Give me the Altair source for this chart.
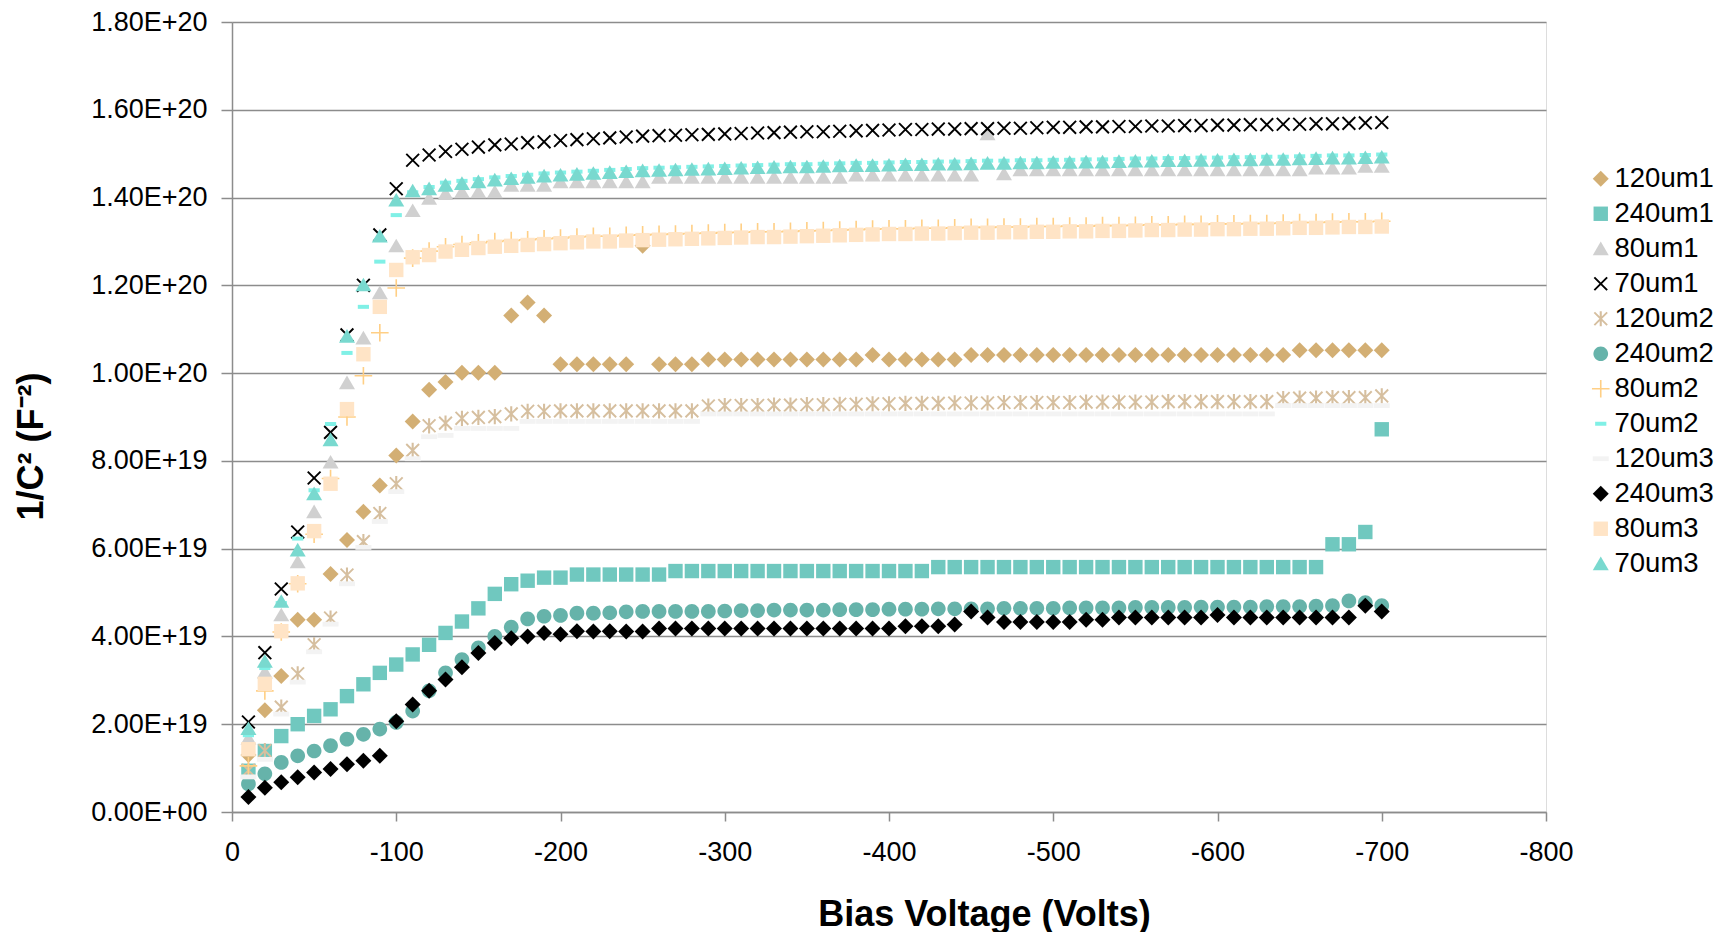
import altair as alt
import pandas as pd

volts = [-10, -20, -30, -40, -50, -60, -70, -80, -90, -100,
         -110, -120, -130, -140, -150, -160, -170, -180, -190, -200,
         -210, -220, -230, -240, -250, -260, -270, -280, -290, -300,
         -310, -320, -330, -340, -350, -360, -370, -380, -390, -400,
         -410, -420, -430, -440, -450, -460, -470, -480, -490, -500,
         -510, -520, -530, -540, -550, -560, -570, -580, -590, -600,
         -610, -620, -630, -640, -650, -660, -670, -680, -690, -700]

# values in units of 1e19 F^-2
s_120um1 = [1.30, 2.32, 3.10, 4.38, 4.38, 5.42, 6.20, 6.84, 7.44, 8.12,
            8.90, 9.62, 9.80, 10.01, 10.01, 10.01, 11.31, 11.61, 11.31, 10.20,
            10.20, 10.20, 10.20, 10.20, 12.90, 10.20, 10.20, 10.20, 10.31, 10.31,
            10.31, 10.31, 10.31, 10.31, 10.31, 10.31, 10.31, 10.31, 10.41, 10.31,
            10.31, 10.31, 10.31, 10.31, 10.41, 10.41, 10.41, 10.41, 10.41, 10.41,
            10.41, 10.41, 10.41, 10.41, 10.41, 10.41, 10.41, 10.41, 10.41, 10.41,
            10.41, 10.41, 10.41, 10.41, 10.52, 10.52, 10.52, 10.52, 10.52, 10.52]
s_240um1 = [0.94, 1.39, 1.73, 2.00, 2.19, 2.34, 2.64, 2.91, 3.17, 3.36,
            3.59, 3.81, 4.08, 4.34, 4.64, 4.97, 5.19, 5.27, 5.34, 5.34,
            5.41, 5.41, 5.41, 5.41, 5.41, 5.41, 5.49, 5.49, 5.49, 5.49,
            5.49, 5.49, 5.49, 5.49, 5.49, 5.49, 5.49, 5.49, 5.49, 5.49,
            5.49, 5.49, 5.58, 5.58, 5.58, 5.58, 5.58, 5.58, 5.58, 5.58,
            5.58, 5.58, 5.58, 5.58, 5.58, 5.58, 5.58, 5.58, 5.58, 5.58,
            5.58, 5.58, 5.58, 5.58, 5.58, 5.58, 6.10, 6.10, 6.38, 8.72]
s_80um1 = [1.68, 3.19, 4.49, 5.70, 6.84, 7.97, 9.78, 10.80, 11.83, 12.90,
           13.70, 13.98, 14.09, 14.13, 14.13, 14.13, 14.28, 14.28, 14.28, 14.36,
           14.36, 14.36, 14.36, 14.36, 14.36, 14.46, 14.46, 14.46, 14.46, 14.46,
           14.46, 14.46, 14.46, 14.46, 14.46, 14.46, 14.46, 14.51, 14.51, 14.51,
           14.51, 14.51, 14.51, 14.51, 14.51, 15.45, 14.54, 14.63, 14.63, 14.63,
           14.63, 14.63, 14.63, 14.63, 14.63, 14.63, 14.63, 14.63, 14.63, 14.63,
           14.63, 14.63, 14.63, 14.63, 14.63, 14.67, 14.67, 14.67, 14.71, 14.71]
s_70um1 = [2.05, 3.63, 5.08, 6.38, 7.61, 8.65, 10.87, 12.00, 13.15, 14.20,
           14.85, 14.97, 15.05, 15.10, 15.15, 15.20, 15.22, 15.25, 15.27, 15.30,
           15.32, 15.34, 15.36, 15.38, 15.40, 15.41, 15.42, 15.43, 15.44, 15.45,
           15.46, 15.47, 15.48, 15.49, 15.50, 15.50, 15.51, 15.52, 15.53, 15.54,
           15.55, 15.55, 15.56, 15.56, 15.57, 15.57, 15.58, 15.58, 15.59, 15.60,
           15.60, 15.61, 15.61, 15.62, 15.62, 15.63, 15.63, 15.64, 15.64, 15.65,
           15.65, 15.66, 15.66, 15.67, 15.67, 15.68, 15.68, 15.69, 15.70, 15.71]
s_120um2 = [0.95, 1.40, 2.39, 3.15, 3.81, 4.42, 5.40, 6.16, 6.80, 7.48,
            8.24, 8.80, 8.86, 8.97, 8.99, 9.01, 9.07, 9.13, 9.13, 9.14,
            9.14, 9.14, 9.14, 9.14, 9.14, 9.14, 9.14, 9.14, 9.25, 9.26,
            9.26, 9.26, 9.27, 9.27, 9.28, 9.28, 9.29, 9.29, 9.30, 9.30,
            9.31, 9.31, 9.31, 9.32, 9.32, 9.32, 9.33, 9.33, 9.33, 9.33,
            9.33, 9.34, 9.34, 9.34, 9.34, 9.34, 9.35, 9.35, 9.35, 9.35,
            9.35, 9.35, 9.35, 9.42, 9.43, 9.43, 9.44, 9.44, 9.44, 9.48]
s_240um2 = [0.64, 0.87, 1.13, 1.28, 1.39, 1.51, 1.66, 1.77, 1.89, 2.04,
            2.30, 2.76, 3.17, 3.47, 3.74, 4.00, 4.21, 4.40, 4.46, 4.48,
            4.53, 4.53, 4.54, 4.56, 4.57, 4.57, 4.57, 4.57, 4.57, 4.58,
            4.59, 4.59, 4.60, 4.60, 4.60, 4.60, 4.61, 4.61, 4.61, 4.62,
            4.62, 4.62, 4.63, 4.63, 4.63, 4.63, 4.64, 4.64, 4.64, 4.64,
            4.65, 4.65, 4.65, 4.65, 4.66, 4.66, 4.66, 4.66, 4.67, 4.67,
            4.67, 4.67, 4.68, 4.68, 4.68, 4.69, 4.70, 4.81, 4.77, 4.70]
s_80um2 = [1.05, 2.76, 4.10, 5.20, 6.33, 7.60, 9.00, 9.94, 10.92, 11.94,
           12.62, 12.78, 12.88, 12.93, 12.97, 13.00, 13.02, 13.04, 13.06, 13.08,
           13.10, 13.12, 13.12, 13.14, 13.15, 13.16, 13.17, 13.18, 13.19, 13.20,
           13.21, 13.22, 13.22, 13.23, 13.24, 13.25, 13.26, 13.27, 13.28, 13.29,
           13.29, 13.30, 13.30, 13.31, 13.32, 13.32, 13.33, 13.33, 13.34, 13.34,
           13.35, 13.35, 13.36, 13.36, 13.37, 13.38, 13.38, 13.39, 13.39, 13.40,
           13.40, 13.41, 13.41, 13.42, 13.43, 13.43, 13.44, 13.45, 13.45, 13.46]
s_70um2 = [1.75, 3.28, 4.76, 6.23, 7.33, 8.84, 10.46, 11.51, 12.54, 13.60,
           14.12, 14.24, 14.34, 14.38, 14.42, 14.46, 14.49, 14.52, 14.55, 14.57,
           14.59, 14.61, 14.63, 14.65, 14.67, 14.68, 14.69, 14.70, 14.71, 14.72,
           14.73, 14.74, 14.75, 14.76, 14.76, 14.77, 14.78, 14.79, 14.79, 14.80,
           14.81, 14.81, 14.82, 14.82, 14.83, 14.84, 14.84, 14.85, 14.85, 14.86,
           14.86, 14.87, 14.87, 14.88, 14.89, 14.89, 14.90, 14.90, 14.91, 14.91,
           14.92, 14.92, 14.93, 14.93, 14.94, 14.95, 14.96, 14.96, 14.97, 14.98]
s_120um3 = [0.80, 1.20, 2.23, 2.96, 3.65, 4.28, 5.20, 6.03, 6.62, 7.30,
            8.05, 8.55, 8.58, 8.74, 8.74, 8.74, 8.74, 8.90, 8.90, 8.90,
            8.90, 8.90, 8.90, 8.90, 8.90, 8.90, 8.90, 8.90, 9.07, 9.07,
            9.07, 9.07, 9.07, 9.07, 9.07, 9.07, 9.07, 9.07, 9.07, 9.07,
            9.07, 9.07, 9.07, 9.07, 9.07, 9.07, 9.07, 9.07, 9.07, 9.07,
            9.07, 9.07, 9.07, 9.07, 9.07, 9.07, 9.07, 9.07, 9.07, 9.07,
            9.07, 9.07, 9.07, 9.26, 9.26, 9.26, 9.26, 9.26, 9.26, 9.26]
s_240um3 = [0.34, 0.55, 0.68, 0.79, 0.90, 0.98, 1.09, 1.17, 1.28, 2.07,
            2.45, 2.76, 3.02, 3.30, 3.62, 3.85, 3.96, 4.00, 4.08, 4.05,
            4.12, 4.11, 4.12, 4.11, 4.11, 4.18, 4.18, 4.18, 4.18, 4.18,
            4.18, 4.18, 4.18, 4.18, 4.18, 4.18, 4.18, 4.18, 4.18, 4.18,
            4.23, 4.23, 4.23, 4.27, 4.57, 4.43, 4.33, 4.33, 4.33, 4.33,
            4.33, 4.38, 4.38, 4.43, 4.43, 4.43, 4.43, 4.43, 4.43, 4.49,
            4.43, 4.43, 4.43, 4.43, 4.43, 4.43, 4.43, 4.43, 4.70, 4.57]
s_80um3 = [1.43, 2.92, 4.12, 5.21, 6.40, 7.48, 9.18, 10.43, 11.51, 12.35,
           12.64, 12.69, 12.77, 12.81, 12.85, 12.88, 12.90, 12.92, 12.94, 12.96,
           12.98, 13.00, 13.00, 13.02, 13.03, 13.04, 13.05, 13.06, 13.07, 13.08,
           13.09, 13.10, 13.10, 13.11, 13.12, 13.13, 13.14, 13.15, 13.16, 13.17,
           13.17, 13.18, 13.18, 13.19, 13.20, 13.20, 13.21, 13.21, 13.22, 13.22,
           13.23, 13.23, 13.24, 13.24, 13.25, 13.26, 13.26, 13.27, 13.27, 13.28,
           13.28, 13.29, 13.29, 13.30, 13.31, 13.31, 13.32, 13.33, 13.33, 13.34]
s_70um3 = [1.90, 3.43, 4.80, 5.97, 7.25, 8.48, 10.84, 12.01, 13.12, 13.94,
           14.15, 14.20, 14.28, 14.32, 14.36, 14.40, 14.43, 14.46, 14.49, 14.51,
           14.53, 14.55, 14.57, 14.59, 14.61, 14.62, 14.63, 14.64, 14.65, 14.66,
           14.67, 14.68, 14.69, 14.70, 14.70, 14.71, 14.72, 14.73, 14.73, 14.74,
           14.75, 14.75, 14.76, 14.76, 14.77, 14.78, 14.78, 14.79, 14.79, 14.80,
           14.80, 14.81, 14.81, 14.82, 14.83, 14.83, 14.84, 14.84, 14.85, 14.85,
           14.86, 14.86, 14.87, 14.87, 14.88, 14.89, 14.90, 14.90, 14.91, 14.92]

series_names = ["120um1", "240um1", "80um1", "70um1", "120um2", "240um2",
                "80um2", "70um2", "120um3", "240um3", "80um3", "70um3"]
series_values = [s_120um1, s_240um1, s_80um1, s_70um1, s_120um2, s_240um2,
                 s_80um2, s_70um2, s_120um3, s_240um3, s_80um3, s_70um3]
series_colors = ["#D3AF74", "#70C8BF", "#D0D0D0", "#000000", "#D6BF9F", "#66B3AA",
                 "#FFCF85", "#80F0E6", "#F3F3F3", "#000000", "#FFE4C6", "#79D9CF"]

DIAMOND = "M0,-1L1,0L0,1L-1,0Z"
SQUARE = "M-0.9,-0.9L0.9,-0.9L0.9,0.9L-0.9,0.9Z"
TRIANGLE = "M0,-0.9L1,0.8L-1,0.8Z"
CIRCLE = "M0.92,0A0.92,0.92,0,1,1,-0.92,0A0.92,0.92,0,1,1,0.92,0Z"
XMARK = ("M-0.715,-0.885L0.885,0.715L0.715,0.885L-0.885,-0.715Z"
         "M0.885,-0.715L-0.715,0.885L-0.885,0.715L0.715,-0.885Z")
STAR = ("M-0.715,-0.885L0.885,0.715L0.715,0.885L-0.885,-0.715Z"
        "M0.885,-0.715L-0.715,0.885L-0.885,0.715L0.715,-0.885Z"
        "M-0.13,-0.95L0.13,-0.95L0.13,0.95L-0.13,0.95Z")
PLUS = ("M-0.1,-1.1L0.1,-1.1L0.1,1.1L-0.1,1.1Z"
        "M-1.1,-0.1L1.1,-0.1L1.1,0.1L-1.1,0.1Z")
DASH = "M-0.7,-0.25L0.7,-0.25L0.7,0.25L-0.7,0.25Z"
LONGDASH = "M-1,-0.3L1,-0.3L1,0.3L-1,0.3Z"
series_shapes = [DIAMOND, SQUARE, TRIANGLE, XMARK, STAR, CIRCLE,
                 PLUS, DASH, LONGDASH, DIAMOND, SQUARE, TRIANGLE]

y_tick_values = [0, 2e19, 4e19, 6e19, 8e19, 1e20, 1.2e20, 1.4e20, 1.6e20, 1.8e20]
y_tick_labels = ["0.00E+00", "2.00E+19", "4.00E+19", "6.00E+19", "8.00E+19",
                 "1.00E+20", "1.20E+20", "1.40E+20", "1.60E+20", "1.80E+20"]
x_tick_values = [0, -100, -200, -300, -400, -500, -600, -700, -800]
x_tick_labels = ["0", "-100", "-200", "-300", "-400", "-500", "-600", "-700", "-800"]

UNIT = 1e19
rows = []
for name, vals in zip(series_names, series_values):
    for v, c in zip(volts, vals):
        rows.append({"volts": v, "series": name, "invc2": c * UNIT})
df = pd.DataFrame(rows)

y_label_expr = "[" + ",".join("'%s'" % s for s in y_tick_labels) + "][round(datum.value/2e19)]"
x_label_expr = "[" + ",".join("'%s'" % s for s in x_tick_labels) + "][round(-datum.value/100)]"

FONT = "Liberation Sans"
GRID = "#8C8C8C"

legend = alt.Legend(
    title=None, orient="none", legendX=1355, legendY=143, padding=0,
    labelFont=FONT, labelFontSize=27.5, labelColor="#000000", labelOffset=0,
    symbolSize=256, symbolStrokeWidth=0, rowPadding=6, labelLimit=300,
)

chart = alt.Chart(df).mark_point(filled=True, opacity=1, size=256, strokeWidth=0).encode(
    x=alt.X("volts:Q",
            scale=alt.Scale(domain=[0, -800], nice=False, zero=False),
            axis=alt.Axis(values=x_tick_values, labelExpr=x_label_expr,
                          title="Bias Voltage (Volts)", grid=False,
                          titleFont=FONT, titleFontSize=36, titleFontWeight="bold",
                          titleColor="#000000", titleX=752, titleY=113,
                          titleBaseline="alphabetic", titleAnchor="middle",
                          labelFont=FONT, labelFontSize=27, labelColor="#000000",
                          labelPadding=18, tickSize=9, tickColor=GRID, tickWidth=1.5,
                          domainColor=GRID, domainWidth=1.5, labelFlush=False)),
    y=alt.Y("invc2:Q",
            scale=alt.Scale(domain=[0, 1.8e20], nice=False),
            axis=alt.Axis(values=y_tick_values, labelExpr=y_label_expr,
                          title="1/C² (F⁻²)", grid=True, gridColor=GRID, gridWidth=1.5,
                          titleFont=FONT, titleFontSize=36, titleFontWeight="bold",
                          titleColor="#000000", titleX=-182, titleY=424,
                          titleAngle=270, titleBaseline="bottom", titleAnchor="middle",
                          labelFont=FONT, labelFontSize=27, labelColor="#000000",
                          labelPadding=14, tickSize=11, tickColor=GRID, tickWidth=1.5,
                          domainColor=GRID, domainWidth=1.5, labelFlush=False)),
    color=alt.Color("series:N", scale=alt.Scale(domain=series_names, range=series_colors),
                    legend=legend),
    shape=alt.Shape("series:N", scale=alt.Scale(domain=series_names, range=series_shapes),
                    legend=legend),
).properties(
    width=1314, height=790,
    autosize=alt.AutoSizeParams(type="none"),
    padding={"left": 224, "top": 14, "right": 177, "bottom": 120},
).configure_view(stroke=None).configure(background="white")

chart.save("out.html", embed_options={"renderer": "svg", "actions": False})
